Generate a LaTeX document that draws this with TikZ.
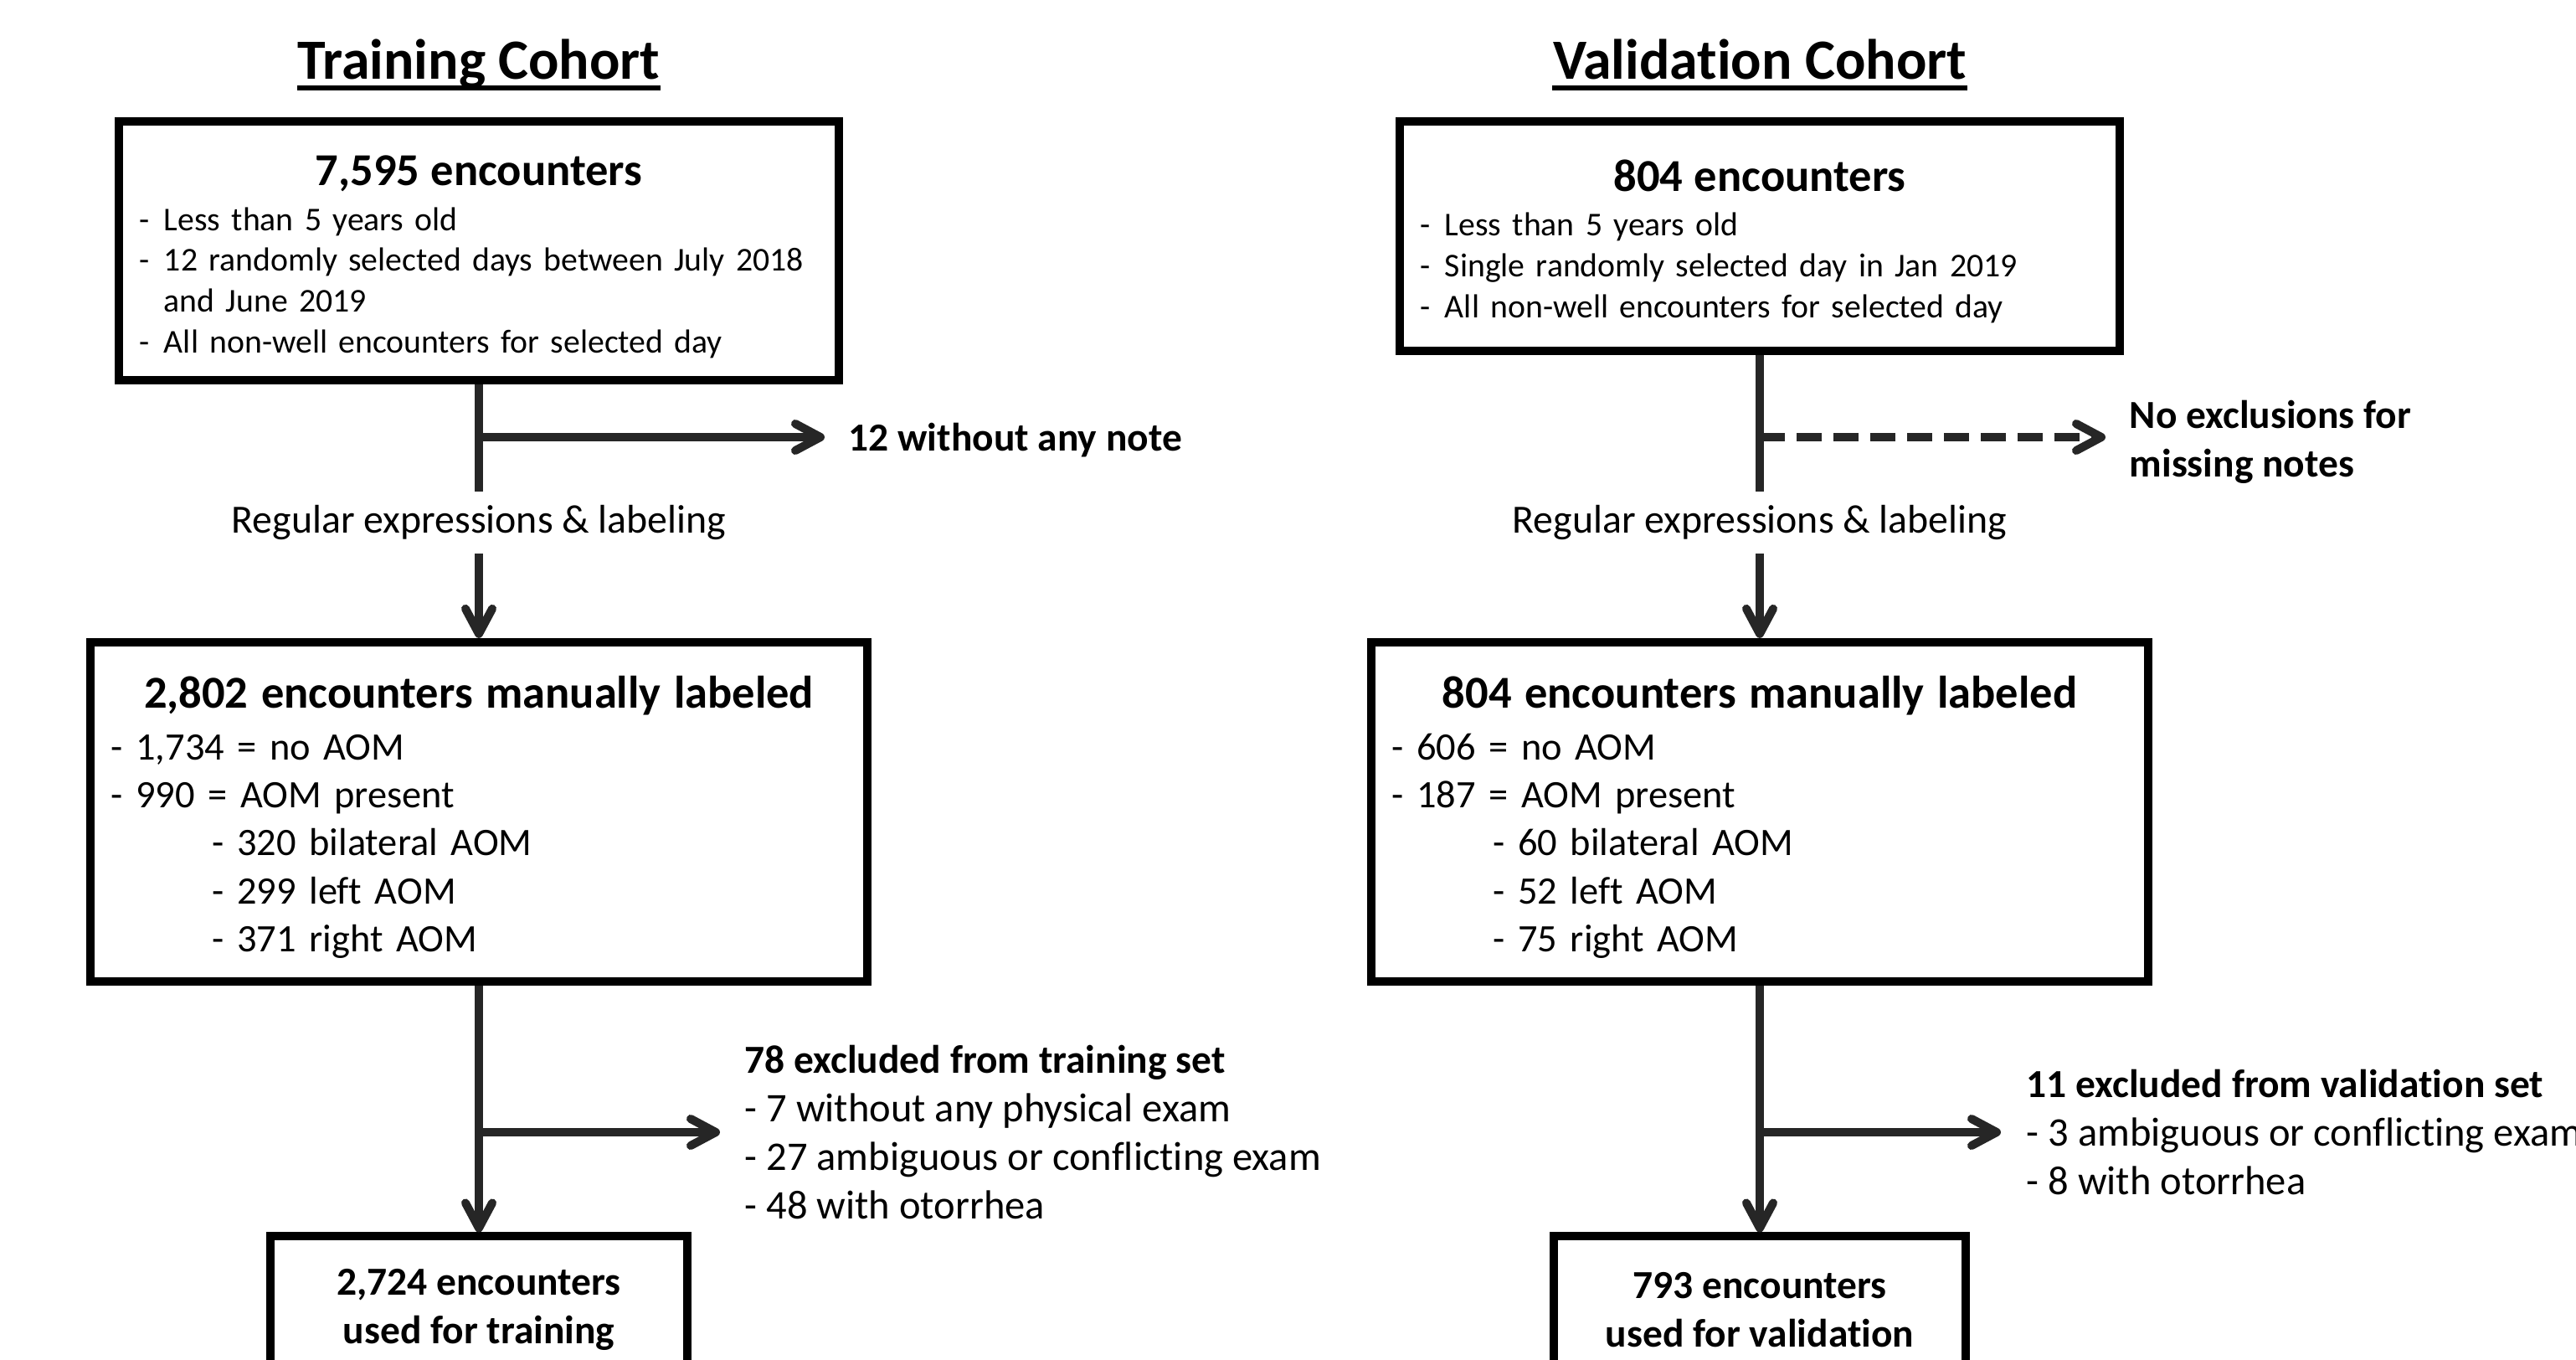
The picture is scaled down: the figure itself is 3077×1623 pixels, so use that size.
\documentclass[tikz,border=0pt]{standalone}
\usepackage{fontspec}
\setmainfont{Carlito}[Ligatures={TeX,NoCommon}]
\usetikzlibrary{arrows.meta}

\definecolor{flowgray}{HTML}{262626}

\newcommand{\boxhead}[1]{{\centering\fontsize{15.5}{18.5}\selectfont\bfseries\rule{0pt}{14.5pt}#1\par}\vspace{1.2pt}}
\newcommand{\dashitem}[1]{\par\noindent\hangindent=8.3pt\hangafter=1\makebox[8.3pt][l]{-}#1}
\newcommand{\notehead}[1]{{\fontsize{13.5}{16.5}\selectfont\bfseries #1}}

\tikzset{
	stagebox/.style={draw=black, line width=0.1cm, inner xsep=0.25cm, inner ysep=0pt, align=left},
	flowline/.style={draw=flowgray, line width=0.1cm},
	flowarrow/.style={flowline, -{Straight Barb[length=0.3cm, width=0.32cm, round]}},
	cohort/.style={anchor=base, inner sep=0pt, font=\fontsize{19.3}{23}\selectfont\bfseries},
	sidenote/.style={anchor=west, inner xsep=0.28cm, align=left, font=\fontsize{13.8}{16.5}\selectfont},
	steplabel/.style={inner xsep=0pt, inner ysep=0.16cm, font=\fontsize{13.6}{16.3}\selectfont}
}

\begin{document}
\begin{tikzpicture}[x=0.01cm, y=-0.01cm]
	\useasboundingbox (0,0) rectangle (3077,1623);
	\clip (0,0) rectangle (3077,1623);

	% training cohort
	\node[cohort] (ttitle) at (572,94) {Training Cohort};
	\draw[line width=0.06cm] ([yshift=-0.11cm]ttitle.base west) -- ([yshift=-0.11cm]ttitle.base east);

	\node[stagebox, text width=8.1cm, minimum height=3.09cm, font=\fontsize{11.3}{13.9}\selectfont] (tall) at (572,299.5) {
		\boxhead{7,595 encounters}
		\dashitem{Less than 5 years old}
		\dashitem{12 randomly selected days between July 2018\newline and June 2019}
		\dashitem{All non-well encounters for selected day}};

	\coordinate (tsplit) at (572,522);
	\node[sidenote] (tnone) at (985,526) {\notehead{12 without any note}};
	\node[steplabel] (tlab) at (572,624) {Regular expressions \& labeling};

	\node[stagebox, text width=8.78cm, minimum height=4.05cm, font=\fontsize{13.2}{16.3}\selectfont] (tman) at (572,969.5) {
		\boxhead{2,802 encounters manually labeled}
		- 1,734 = no AOM\\
		- 990 = AOM present\\
		\hspace*{34.4pt}- 320 bilateral AOM\\
		\hspace*{34.4pt}- 299 left AOM\\
		\hspace*{34.4pt}- 371 right AOM};

	\node[sidenote, inner xsep=0.29cm] (texcl) at (860,1352) {\notehead{78 excluded from training set}\\
		- 7 without any physical exam\\
		- 27 ambiguous or conflicting exam\\
		- 48 with otorrhea};

	\node[stagebox, align=center, minimum width=4.97cm, minimum height=1.75cm, font=\fontsize{13.5}{16.3}\selectfont\bfseries] (tused) at (572,1564) {2,724 encounters\\used for training};

	\draw[flowline] (tall.south) -- (tlab.north);
	\draw[flowarrow] (tsplit) -- (tsplit -| tnone.west);
	\draw[flowarrow] (tlab.south) -- (tman.north);
	\draw[flowarrow] (tman.south) -- (tused.north);
	\draw[flowarrow] (tman.south |- texcl.west) -- (texcl.west);

	% validation cohort
	\node[cohort] (vtitle) at (2102,94) {Validation Cohort};
	\draw[line width=0.06cm] ([yshift=-0.11cm]vtitle.base west) -- ([yshift=-0.11cm]vtitle.base east);

	\node[stagebox, text width=8.1cm, minimum height=2.74cm, font=\fontsize{11.3}{13.9}\selectfont] (vall) at (2102,282) {
		\boxhead{804 encounters}
		\dashitem{Less than 5 years old}
		\dashitem{Single randomly selected day in Jan 2019}
		\dashitem{All non-well encounters for selected day}};

	\coordinate (vsplit) at (2102,522);
	\node[sidenote] (vnone) at (2515,528) {\notehead{No exclusions for}\\\notehead{missing notes}};
	\node[steplabel] (vlab) at (2102,624) {Regular expressions \& labeling};

	\node[stagebox, text width=8.78cm, minimum height=4.05cm, font=\fontsize{13.2}{16.3}\selectfont] (vman) at (2102,969.5) {
		\boxhead{804 encounters manually labeled}
		- 606 = no AOM\\
		- 187 = AOM present\\
		\hspace*{34.4pt}- 60 bilateral AOM\\
		\hspace*{34.4pt}- 52 left AOM\\
		\hspace*{34.4pt}- 75 right AOM};

	\node[sidenote, inner xsep=0.3cm] (vexcl) at (2390,1352) {\notehead{11 excluded from validation set}\\
		- 3 ambiguous or conflicting exam\\
		- 8 with otorrhea};

	\node[stagebox, align=center, minimum width=4.92cm, minimum height=1.75cm, font=\fontsize{13.5}{16.3}\selectfont\bfseries] (vused) at (2102,1564) {793 encounters\\used for validation};

	\draw[flowline] (vall.south) -- (vlab.north);
	\draw[flowarrow, dash pattern=on 0.3cm off 0.14cm] (vsplit) -- (vsplit -| vnone.west);
	\draw[flowarrow] (vlab.south) -- (vman.north);
	\draw[flowarrow] (vman.south) -- (vused.north);
	\draw[flowarrow] (vman.south |- vexcl.west) -- (vexcl.west);
\end{tikzpicture}
\end{document}
